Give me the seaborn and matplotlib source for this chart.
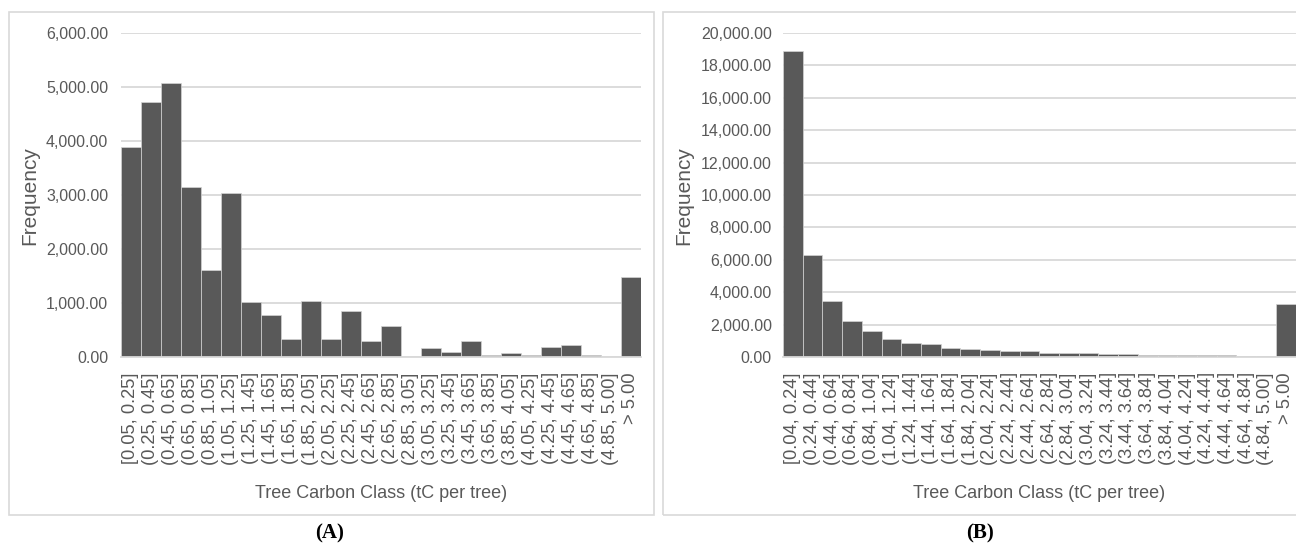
import matplotlib
matplotlib.use("Agg")
import matplotlib.pyplot as plt
from matplotlib import font_manager
from matplotlib.patches import Rectangle
from matplotlib.ticker import FuncFormatter, MultipleLocator
import seaborn as sns

# Class labels and tree counts for the two inventories
classes_a = ["[0.05, 0.25]", "(0.25, 0.45]", "(0.45, 0.65]", "(0.65, 0.85]", "(0.85, 1.05]",
             "(1.05, 1.25]", "(1.25, 1.45]", "(1.45, 1.65]", "(1.65, 1.85]", "(1.85, 2.05]",
             "(2.05, 2.25]", "(2.25, 2.45]", "(2.45, 2.65]", "(2.65, 2.85]", "(2.85, 3.05]",
             "(3.05, 3.25]", "(3.25, 3.45]", "(3.45, 3.65]", "(3.65, 3.85]", "(3.85, 4.05]",
             "(4.05, 4.25]", "(4.25, 4.45]", "(4.45, 4.65]", "(4.65, 4.85]", "(4.85, 5.00]",
             "> 5.00"]
freq_a = [3890, 4720, 5070, 3150, 1610, 3040, 1010, 775, 330, 1040,
          330, 860, 305, 575, 0, 160, 90, 295, 40, 75,
          40, 185, 225, 40, 0, 1490]

classes_b = ["[0.04, 0.24]", "(0.24, 0.44]", "(0.44, 0.64]", "(0.64, 0.84]", "(0.84, 1.04]",
             "(1.04, 1.24]", "(1.24, 1.44]", "(1.44, 1.64]", "(1.64, 1.84]", "(1.84, 2.04]",
             "(2.04, 2.24]", "(2.24, 2.44]", "(2.44, 2.64]", "(2.64, 2.84]", "(2.84, 3.04]",
             "(3.04, 3.24]", "(3.24, 3.44]", "(3.44, 3.64]", "(3.64, 3.84]", "(3.84, 4.04]",
             "(4.04, 4.24]", "(4.24, 4.44]", "(4.44, 4.64]", "(4.64, 4.84]", "(4.84, 5.00]",
             "> 5.00"]
freq_b = [18880, 6300, 3440, 2230, 1630, 1135, 845, 785, 535, 475,
          410, 350, 350, 250, 250, 250, 185, 185, 125, 125,
          125, 125, 125, 40, 40, 3300]

sns.set_style("white")
available = {f.name for f in font_manager.fontManager.ttflist}
narrow = "Liberation Sans Narrow" if "Liberation Sans Narrow" in available else "Liberation Sans"
plt.rcParams["font.family"] = ["Liberation Sans", "DejaVu Sans"]

TEXT = "#595959"
GRID = "#d9d9d9"
BAR = "#595959"

W, H = 1296, 550
fig = plt.figure(figsize=(W / 100, H / 100), dpi=100)


def px_rect(x0, y0, x1, y1):
    """Convert a pixel box (top-left origin) into figure fractions."""
    return [x0 / W, 1 - y1 / H, (x1 - x0) / W, (y1 - y0) / H]


def draw_panel(rect, classes, freq, ymax, step, ylab_x, ytick_pad):
    ax = fig.add_axes(px_rect(*rect))
    sns.barplot(x=classes, y=freq, ax=ax, color=BAR, saturation=1, width=1.0,
                edgecolor="#d4d4d4", linewidth=0.5)
    ax.set_xlim(-0.5, len(classes) - 0.5)
    ax.set_ylim(0, ymax)
    ax.yaxis.set_major_locator(MultipleLocator(step))
    ax.yaxis.set_major_formatter(FuncFormatter(lambda v, p: f"{v:,.2f}"))
    ax.set_axisbelow(True)
    ax.yaxis.grid(True, color=GRID, linewidth=1.3)
    ax.xaxis.grid(False)
    for s in ("top", "left", "right"):
        ax.spines[s].set_visible(False)
    ax.spines["bottom"].set_color(GRID)
    ax.spines["bottom"].set_linewidth(1.3)
    ax.tick_params(axis="both", length=0)
    ax.tick_params(axis="y", pad=ytick_pad, labelsize=11.5, labelcolor=TEXT)
    ax.tick_params(axis="x", pad=11, labelsize=13.2, labelcolor=TEXT, rotation=90)
    for t in ax.get_yticklabels():
        t.set_family(narrow)
    ax.set_xlabel("")
    ax.set_ylabel("")
    # axis titles
    xc = (rect[0] + rect[2]) / 2
    fig.text(xc / W, 1 - 494 / H, "Tree Carbon Class (tC per tree)", ha="center", va="center",
             fontsize=13, color=TEXT)
    fig.text(ylab_x / W, 1 - 196 / H, "Frequency", ha="center", va="center",
             rotation=90, fontsize=15, color=TEXT)
    return ax


draw_panel((120.7, 33, 640.7, 357), classes_a, freq_a, 6000, 1000, 30, 9)
draw_panel((783, 33, 1295.5, 357), classes_b, freq_b, 20000, 2000, 684, 8)

# panel frames
for x0, x1 in ((9, 654), (663, 1310)):
    fig.patches.append(Rectangle((x0 / W, 1 - 515 / H), (x1 - x0) / W, (515 - 12) / H,
                                 transform=fig.transFigure, fill=False,
                                 edgecolor=GRID, linewidth=1.2))

fig.text(330 / W, 1 - 533 / H, "(A)", ha="center", va="center", fontsize=15,
         fontweight="bold", family=["Liberation Serif", "DejaVu Serif"], color="black")
fig.text(980 / W, 1 - 533 / H, "(B)", ha="center", va="center", fontsize=15,
         fontweight="bold", family=["Liberation Serif", "DejaVu Serif"], color="black")

fig.savefig("out.png", dpi=100)
